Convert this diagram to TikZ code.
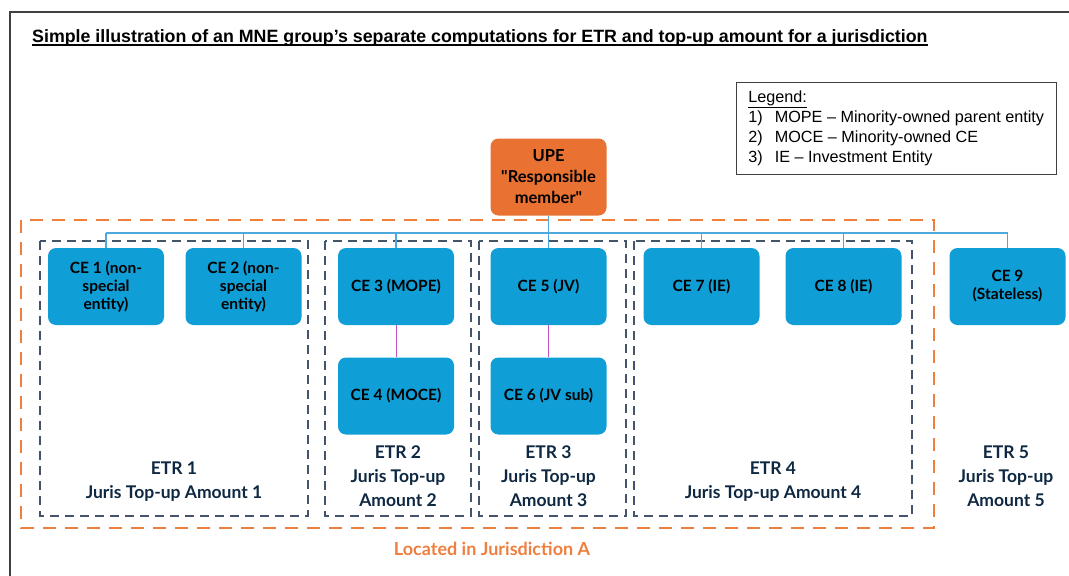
\documentclass[tikz,border=0pt]{standalone}
\usepackage{fontspec}
\setmainfont{Liberation Sans}
\newfontfamily\boxfont{Lato}
\definecolor{ceblue}{HTML}{0F9ED5}
\definecolor{linkblue}{HTML}{4DA8DE}
\definecolor{upeorange}{HTML}{E97132}
\definecolor{jurorange}{HTML}{EE7F3F}
\definecolor{navytext}{HTML}{0E2841}
\definecolor{navydash}{HTML}{44546A}
\definecolor{subpink}{HTML}{C355C0}
\definecolor{framegray}{HTML}{404040}
\begin{document}
\begin{tikzpicture}[x=1pt,y=-1pt,
  cebox/.style={rectangle, rounded corners=8pt, fill=ceblue, draw=none,
    minimum width=116pt, minimum height=77pt, align=center, text=black,
    font=\boxfont\bfseries\fontsize{15.5}{18}\selectfont},
  upebox/.style={cebox, fill=upeorange, font=\boxfont\bfseries\fontsize{16.5}{21}\selectfont},
  grpbox/.style={draw=navydash, line width=1.3pt, dash pattern=on 9pt off 6pt},
  jurbox/.style={draw=jurorange, line width=2pt, dash pattern=on 13pt off 9pt},
  etrlabel/.style={align=center, text=navytext,
    font=\boxfont\bfseries\fontsize{17.5}{24}\selectfont},
  link/.style={draw=linkblue, line width=1.3pt},
  sublink/.style={draw=subpink, line width=1pt}]
\useasboundingbox (0,0) rectangle (1069,576);
\clip (0,0) rectangle (1069,576);
% Frame and title
\draw[framegray, line width=2pt] (10,600) -- (10,12) -- (1090,12);
\node[anchor=base west, inner sep=0pt, font=\bfseries\fontsize{17.8}{20}\selectfont] (title) at (32,42)
  {Simple illustration of an MNE group’s separate computations for ETR and top-up amount for a jurisdiction};
\draw[line width=1.5pt] ([yshift=-3pt]title.base west) -- ([yshift=-3pt]title.base east);
% Legend
\node[draw=framegray, line width=0.8pt, anchor=west, inner xsep=12pt, minimum height=92pt,
  font=\fontsize{16.2}{20}\selectfont] (legend) at (736,128)
  {\begin{tabular}{@{}l@{\hspace{12pt}}l@{}}
   \multicolumn{2}{@{}l}{\underline{Legend:}}\\
   1) & MOPE – Minority-owned parent entity\\
   2) & MOCE – Minority-owned CE\\
   3) & IE – Investment Entity
   \end{tabular}};
% Jurisdiction A and ETR groups
\draw[jurbox] (21,220) rectangle (934,528);
\draw[grpbox] (40,241) rectangle (308,516);
\draw[grpbox] (325,241) rectangle (471,516);
\draw[grpbox] (479,241) rectangle (626,516);
\draw[grpbox] (634,241) rectangle (912,516);
\node[text=jurorange, font=\boxfont\bfseries\fontsize{18}{20}\selectfont] (jurA) at (492,549) {Located in Jurisdiction A};
% Entities
\node[upebox] (upe) at (548.5,177) {UPE\\"Responsible\\member"};
\node[cebox] (ce1) at (106,286.5) {CE 1 (non-\\special\\entity)};
\node[cebox] (ce2) at (243.5,286.5) {CE 2 (non-\\special\\entity)};
\node[cebox] (ce3) at (396,286.5) {CE 3 (MOPE)};
\node[cebox] (ce4) at (396,396) {CE 4 (MOCE)};
\node[cebox] (ce5) at (548.5,286.5) {CE 5 (JV)};
\node[cebox] (ce6) at (548.5,396) {CE 6 (JV sub)};
\node[cebox] (ce7) at (701.5,286.5) {CE 7 (IE)};
\node[cebox] (ce8) at (843.5,286.5) {CE 8 (IE)};
\node[cebox] (ce9) at (1007.5,286.5) {CE 9\\(Stateless)};
% Ownership lines
\coordinate (bus) at (548.5,233);
\draw[link] (upe.south) -- (ce5.north);
\draw[link] (ce1.north |- bus) -- (ce9.north |- bus);
\foreach \n in {ce1,ce2,ce3,ce7,ce8,ce9}
  \draw[link] (\n.north |- bus) -- (\n.north);
\draw[sublink] (ce3.south) -- (ce4.north);
\draw[sublink] (ce5.south) -- (ce6.north);
% ETR and top-up labels
\node[etrlabel] (etr1) at (174,482) {ETR 1\\Juris Top-up Amount 1};
\node[etrlabel] (etr2) at (398,476) {ETR 2\\Juris Top-up\\Amount 2};
\node[etrlabel] (etr3) at (548.5,476) {ETR 3\\Juris Top-up\\Amount 3};
\node[etrlabel] (etr4) at (773,482) {ETR 4\\Juris Top-up Amount 4};
\node[etrlabel] (etr5) at (1006,476) {ETR 5\\Juris Top-up\\Amount 5};
\end{tikzpicture}
\end{document}
